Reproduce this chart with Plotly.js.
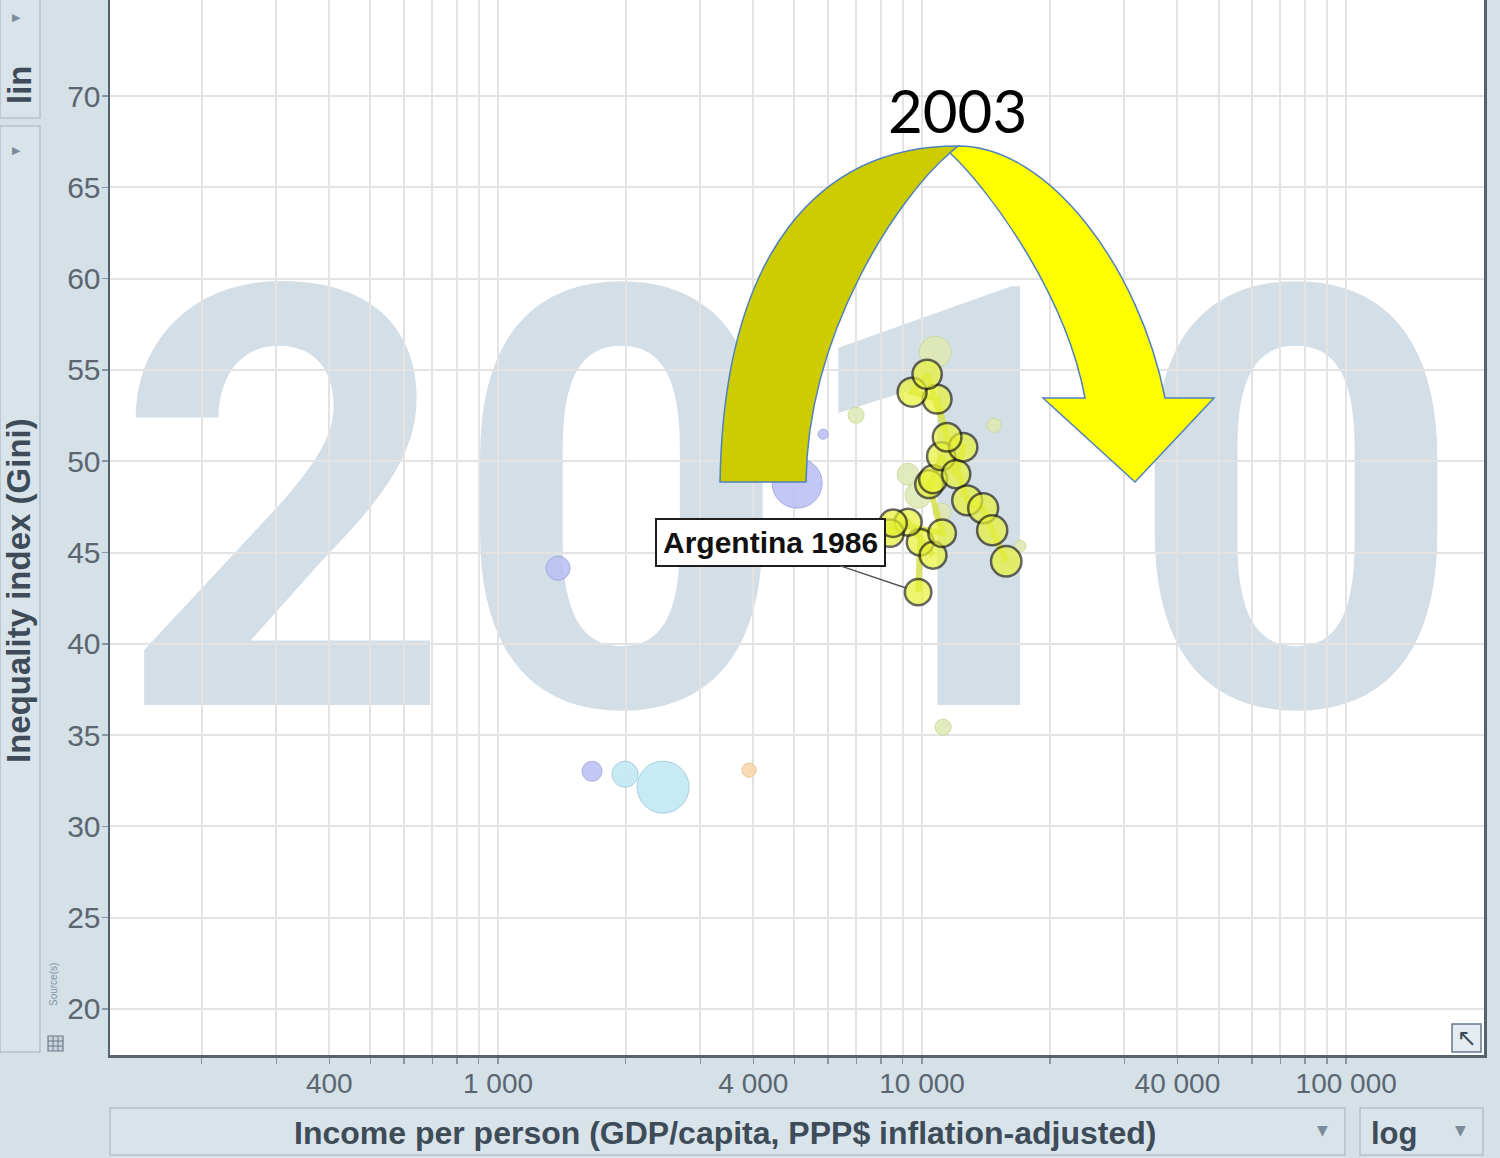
<!DOCTYPE html>
<html>
<head>
<meta charset="utf-8">
<script src="https://cdn.plot.ly/plotly-3.0.1.min.js"></script>
<style>html,body{margin:0;padding:0;background:#d5e0e7;}</style>
</head>
<body>
<div id="chart" style="width:1500px;height:1158px;"></div>
<script>
// ---------------- DATA ----------------
// Argentina trail (income per person, PPP$; Gini index; population, millions)
const argYears  = [1986, 1987, 1988, 1989, 1990, 1991, 1992, 1993, 1994, 1995, 1996, 1997, 1998, 1999, 2000, 2002, 2006, 2007, 2008, 2010];
const argIncome = [9786, 9893, 10615, 9268, 8405, 8543, 11148, 10388, 10615, 11087, 12030, 12495, 11455, 10850, 9472, 10275, 12770, 13930, 14630, 15790];
const argGini   = [42.83, 45.56, 44.85, 46.66, 46.06, 46.60, 46.06, 48.74, 49.01, 50.27, 49.29, 50.77, 51.31, 53.40, 53.78, 54.76, 47.86, 47.43, 46.22, 44.52];
const argPop    = [30.7, 31.2, 31.6, 32.0, 32.6, 33.0, 33.4, 33.9, 34.3, 34.8, 35.2, 35.6, 36.1, 36.5, 36.9, 37.7, 39.1, 39.5, 39.9, 40.7];

// Other countries in 2010 (faded)
const otherRegion = ["Sub-Saharan Africa", "Sub-Saharan Africa", "Sub-Saharan Africa", "Sub-Saharan Africa",
                     "South Asia", "South Asia", "Europe & Central Asia",
                     "America", "America", "America", "America", "America", "America", "America", "America"];
const otherIncome = [5073, 5843, 1385, 1666, 1993, 2450, 3908, 6988, 14790, 11207, 17025, 10733, 9268, 9786, 11148];
const otherGini   = [48.80, 51.48, 44.14, 33.02, 32.86, 32.15, 33.08, 52.52, 51.97, 35.43, 45.35, 55.97, 49.29, 48.14, 47.21];
const otherPop    = [110, 4.4, 25.5, 17.6, 30, 119, 8.8, 11.4, 8.8, 11.4, 6.2, 45, 21, 30, 14];

// Axis ticks
const yTickVals = [20, 25, 30, 35, 40, 45, 50, 55, 60, 65, 70];
const xTickVals = [200, 300, 400, 500, 600, 700, 800, 900,
                   1000, 2000, 3000, 4000, 5000, 6000, 7000, 8000, 9000,
                   10000, 20000, 30000, 40000, 50000, 60000, 70000, 80000, 90000, 100000];
const xTickText = ["", "", "400", "", "", "", "", "",
                   "1 000", "", "", "4 000", "", "", "", "", "",
                   "10 000", "", "", "40 000", "", "", "", "", "", "100 000"];

const watermarkYear = "2010";
const arrowYear = "2003";
const highlightCountry = "Argentina";

// ---------------- STYLE ----------------
const regionStyle = {
  "Sub-Saharan Africa":    {fill: "#bcc2f4", line: "#9ea5e2"},
  "South Asia":            {fill: "#c3e8f5", line: "#a0cbdc"},
  "Europe & Central Asia": {fill: "#f9d8ab", line: "#e6c08e"},
  "America":               {fill: "#dfe9b6", line: "#cad99a"}
};

const W = 1500, H = 1158, ML = 110, MR = 16, MT = 0, MB = 103;
const PW = W - ML - MR, PH = H - MT - MB;
const px = x => (x - ML) / PW;          // screen px -> paper x
const py = y => (H - MB - y) / PH;      // screen px -> paper y
const pt = (x, y) => px(x).toFixed(5) + "," + py(y).toFixed(5);

const textCol = "#3e4b58";
const tickCol = "#5b6670";
const panelFill = "#d9e3ea";
const panelLine = "#b3c1cc";
const SANS = "Arial";

// ---------------- TRACES ----------------
const traces = [];
const regions = [...new Set(otherRegion)];
regions.forEach(r => {
  const idx = otherRegion.map((v, i) => v === r ? i : -1).filter(i => i >= 0);
  traces.push({
    type: "scatter", mode: "markers", name: r,
    x: idx.map(i => otherIncome[i]), y: idx.map(i => otherGini[i]),
    marker: {size: idx.map(i => otherPop[i]), sizemode: "area", sizeref: 0.088,
             color: regionStyle[r].fill, opacity: 0.9, line: {color: regionStyle[r].line, width: 1}},
    hoverinfo: "x+y+name", showlegend: false
  });
});
traces.push({
  type: "scatter", mode: "lines", x: argIncome, y: argGini,
  line: {color: "rgba(214,224,70,0.85)", width: 6}, hoverinfo: "skip", showlegend: false
});
traces.push({
  type: "scatter", mode: "markers", name: highlightCountry,
  x: argIncome, y: argGini, text: argYears.map(String),
  marker: {size: argPop, sizemode: "area", sizeref: 0.088, color: "#e6f236",
           line: {color: "#262616", width: 2.5}},
  showlegend: false
});

// ---------------- SHAPES ----------------
const darkPath = "M" + pt(720, 482) + " C" + pt(724, 250) + " " + pt(820, 146) + " " + pt(958, 146) +
                 " L" + pt(950, 153) + " C" + pt(900, 195) + " " + pt(808, 330) + " " + pt(806, 482) + " Z";
const lightPath = "M" + pt(958, 146) + " C" + pt(1050, 146) + " " + pt(1140, 270) + " " + pt(1165, 398) +
                  " L" + pt(1214, 398) + " L" + pt(1135, 482) + " L" + pt(1043, 398) + " L" + pt(1085, 398) +
                  " C" + pt(1065, 290) + " " + pt(985, 185) + " " + pt(950, 153) + " Z";

const rectPx = (x0, y0, x1, y1, fill, line, lw, layer) => ({
  type: "rect", xref: "paper", yref: "paper",
  x0: px(x0), x1: px(x1), y0: py(y1), y1: py(y0),
  fillcolor: fill, line: {color: line, width: lw}, layer: layer || "above"
});

const shapes = [
  // watermark year, between gridlines and traces
  {type: "rect", xref: "paper", yref: "paper", x0: px(150), x1: px(1430), y0: py(681), y1: py(243),
   fillcolor: "rgba(0,0,0,0)", line: {width: 0}, layer: "between",
   label: {text: "<b>" + watermarkYear + "</b>", textposition: "middle center",
           font: {family: "Roboto", size: 588, color: "#d3dee6"}}},
  // curved arrow
  {type: "path", xref: "paper", yref: "paper", path: darkPath, fillcolor: "#cccc00",
   line: {color: "#4f81bd", width: 1.5}, layer: "above"},
  {type: "path", xref: "paper", yref: "paper", path: lightPath, fillcolor: "#ffff00",
   line: {color: "#4f81bd", width: 1.5}, layer: "above"},
  // left control panel
  rectPx(0, -4, 40, 118, panelFill, panelLine, 1.5),
  rectPx(0, 126, 40, 1052, panelFill, panelLine, 1.5),
  // bottom selector boxes
  rectPx(110, 1108, 1345, 1155, panelFill, panelLine, 1.5),
  rectPx(1360, 1108, 1483, 1155, panelFill, panelLine, 1.5),
  // zoom icon
  rectPx(1452, 1024, 1481, 1052, "#e4ecf1", "#66778a", 1.5),
  // table icon
  rectPx(48, 1036, 63, 1051, "#c9d3db", "#6d7b89", 1.2),
  {type: "line", xref: "paper", yref: "paper", x0: px(48), x1: px(63), y0: py(1041), y1: py(1041), line: {color: "#6d7b89", width: 1}},
  {type: "line", xref: "paper", yref: "paper", x0: px(48), x1: px(63), y0: py(1046), y1: py(1046), line: {color: "#6d7b89", width: 1}},
  {type: "line", xref: "paper", yref: "paper", x0: px(53), x1: px(53), y0: py(1036), y1: py(1051), line: {color: "#6d7b89", width: 1}},
  {type: "line", xref: "paper", yref: "paper", x0: px(58), x1: px(58), y0: py(1036), y1: py(1051), line: {color: "#6d7b89", width: 1}}
];

// ---------------- ANNOTATIONS ----------------
const annPx = (x, y, text, font, extra) => Object.assign({
  xref: "paper", yref: "paper", x: px(x), y: py(y), text: text, showarrow: false,
  xanchor: "center", yanchor: "middle", font: font
}, extra || {});

const annotations = [
  annPx(957, 110, arrowYear, {family: "Lato, Open Sans, sans-serif", size: 60, color: "#000000"}),
  {xref: "x", yref: "y", x: Math.log10(argIncome[0]), y: argGini[0],
   text: "<b>" + highlightCountry + " " + argYears[0] + "</b>",
   showarrow: true, arrowhead: 0, arrowwidth: 1.5, arrowcolor: "#555555", standoff: 12,
   ax: -148, ay: -50, bgcolor: "#ffffff", bordercolor: "#1e1e1e", borderwidth: 2, borderpad: 6,
   font: {family: SANS, size: 30, color: "#111111"}},
  annPx(18, 591, "<b>Inequality index (Gini)</b>", {family: SANS, size: 33, color: textCol}, {textangle: -90}),
  annPx(725, 1133, "<b>Income per person (GDP/capita, PPP$ inflation-adjusted)</b>", {family: SANS, size: 32, color: textCol}),
  annPx(19, 84, "<b>lin</b>", {family: SANS, size: 33, color: textCol}, {textangle: -90}),
  annPx(1394, 1133, "<b>log</b>", {family: SANS, size: 31, color: textCol}),
  annPx(16, 18, "▶", {family: "DejaVu Sans", size: 11, color: "#7c8b9a"}),
  annPx(16, 150, "▶", {family: "DejaVu Sans", size: 11, color: "#7c8b9a"}),
  annPx(1322, 1130, "▼", {family: "DejaVu Sans", size: 14, color: "#7c8b9a"}),
  annPx(1460, 1130, "▼", {family: "DejaVu Sans", size: 14, color: "#7c8b9a"}),
  annPx(1467, 1038, "↖", {family: "DejaVu Sans", size: 24, color: "#3c4a58"}),
  annPx(53, 985, "Source(s)", {family: SANS, size: 10, color: "#8695a4"}, {textangle: -90})
];

// ---------------- LAYOUT ----------------
const layout = {
  width: W, height: H,
  margin: {l: ML, r: MR, t: MT, b: MB, pad: 0},
  paper_bgcolor: "#d5e0e7",
  plot_bgcolor: "#ffffff",
  showlegend: false,
  font: {family: SANS},
  xaxis: {
    type: "log", range: [2.085, 5.325], autorange: false,
    tickmode: "array", tickvals: xTickVals, ticktext: xTickText,
    showgrid: true, gridcolor: "#e3e3e3", gridwidth: 2,
    ticks: "outside", ticklen: 6, tickcolor: "#8a97a3", tickwidth: 1.5,
    ticklabelstandoff: -4,
    tickfont: {size: 28, color: tickCol},
    showline: true, linecolor: "#56636f", linewidth: 2.5, mirror: true,
    zeroline: false, title: {text: ""}
  },
  yaxis: {
    type: "linear", range: [17.48, 75.26], autorange: false,
    tickmode: "array", tickvals: yTickVals,
    showgrid: true, gridcolor: "#e3e3e3", gridwidth: 2,
    ticks: "outside", ticklen: 6, tickcolor: "#8a97a3", tickwidth: 1.5,
    ticklabelstandoff: -5,
    tickfont: {size: 30, color: tickCol},
    showline: true, linecolor: "#56636f", linewidth: 2.5, mirror: true,
    zeroline: false, title: {text: ""}
  },
  shapes: shapes,
  annotations: annotations
};

Plotly.newPlot("chart", traces, layout, {displayModeBar: false, staticPlot: true});
</script>
</body>
</html>
